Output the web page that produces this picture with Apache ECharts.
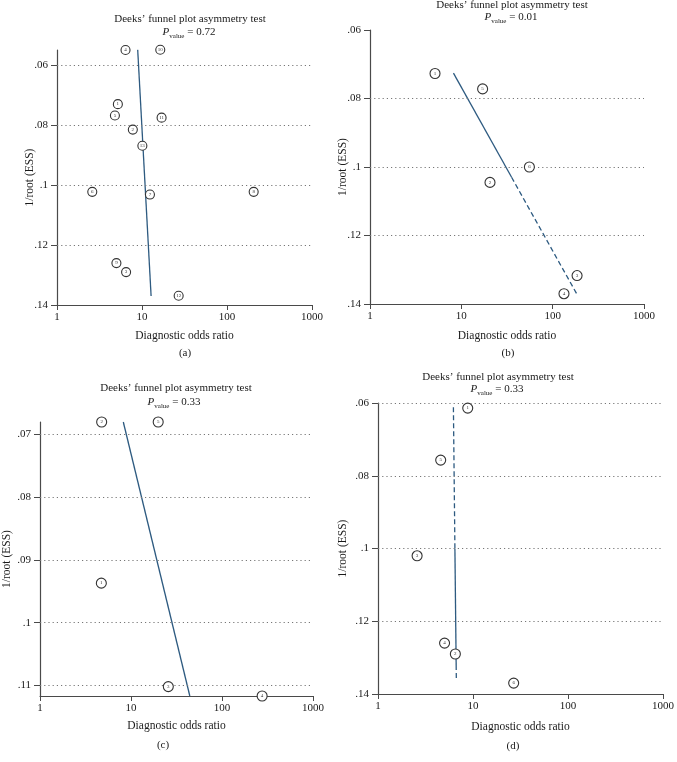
<!DOCTYPE html>
<html><head><meta charset="utf-8">
<script src="https://cdn.jsdelivr.net/npm/echarts@6.0.0/dist/echarts.min.js"></script>
<style>html,body{margin:0;padding:0;background:#fff}#c{width:677px;height:762px}</style>
</head><body><div id="c"></div>
<script>
const FONT = "'Liberation Serif','DejaVu Serif',serif";
const TITLE = 'Deeks\u2019 funnel plot asymmetry test';
const X_NAME = 'Diagnostic odds ratio';
const Y_NAME = '1/root (ESS)';

// Panel (a)
const aIds = ['4','10','1','5','11','2','13','6','7','8','9','3','12'];
const aDOR = [6.4, 16.4, 5.2, 4.8, 17.0, 7.8, 10.1, 2.6, 12.4, 206, 5.0, 6.5, 27];
const aESS = [0.0548, 0.0547, 0.0729, 0.0767, 0.0774, 0.0814, 0.0868, 0.1022, 0.1031, 0.1022, 0.126, 0.129, 0.1369];
const aFitDOR = [8.9, 12.8];
const aFitESS = [0.0547, 0.137];
const aFitDash = [false];
const aYTicks = [0.06, 0.08, 0.1, 0.12, 0.14];
const aYGrid = [0.06, 0.08, 0.1, 0.12];
const aP = '0.72';

// Panel (b)
const bIds = ['1','5','6','2','3','4'];
const bDOR = [5.15, 17.1, 55.6, 20.6, 185, 133];
const bESS = [0.0727, 0.0772, 0.1, 0.1045, 0.1317, 0.137];
const bFitDOR = [8.2, 35.5, 183];
const bFitESS = [0.0726, 0.103, 0.137];
const bFitDash = [false, true];
const bYTicks = [0.06, 0.08, 0.1, 0.12, 0.14];
const bYGrid = [0.08, 0.1, 0.12];
const bP = '0.01';

// Panel (c)
const cIds = ['2','5','1','3','4'];
const cDOR = [4.76, 19.9, 4.72, 25.7, 276];
const cESS = [0.068, 0.068, 0.0937, 0.1102, 0.1117];
const cFitDOR = [8.23, 44.3];
const cFitESS = [0.068, 0.1117];
const cFitDash = [false];
const cYTicks = [0.07, 0.08, 0.09, 0.1, 0.11];
const cYGrid = [0.07, 0.08, 0.09, 0.1, 0.11];
const cP = '0.33';

// Panel (d)
const dIds = ['1','5','3','4','2','6'];
const dDOR = [8.8, 4.57, 2.58, 5.02, 6.52, 26.8];
const dESS = [0.0614, 0.0757, 0.102, 0.126, 0.129, 0.137];
const dFitDOR = [6.22, 6.45, 6.65, 6.68];
const dFitESS = [0.0612, 0.1, 0.132, 0.1364];
const dFitDash = [true, false, true];
const dYTicks = [0.06, 0.08, 0.1, 0.12, 0.14];
const dYGrid = [0.06, 0.08, 0.1, 0.12];
const dP = '0.33';

const panels = [
  {ids:aIds, dor:aDOR, ess:aESS, fd:aFitDOR, fe:aFitESS, fdash:aFitDash, yt:aYTicks, yg:aYGrid, p:aP,
   yMin:0.0548, yMax:0.14, grid:{left:57, top:50, width:255, height:255}, size:9,
   title:[190,19], pos:[189,32], cap:'(a)', capPos:[185,353], xGap:25, yGap:21},
  {ids:bIds, dor:bDOR, ess:bESS, fd:bFitDOR, fe:bFitESS, fdash:bFitDash, yt:bYTicks, yg:bYGrid, p:bP,
   yMin:0.06, yMax:0.14, grid:{left:370, top:30, width:274, height:274}, size:10,
   title:[512,5], pos:[511,17], cap:'(b)', capPos:[508,353], xGap:26, yGap:21},
  {ids:cIds, dor:cDOR, ess:cESS, fd:cFitDOR, fe:cFitESS, fdash:cFitDash, yt:cYTicks, yg:cYGrid, p:cP,
   yMin:0.068, yMax:0.1117, grid:{left:39, top:422, width:274, height:274}, size:10,
   title:[176,388], pos:[174,402], cap:'(c)', capPos:[163,745], xGap:24, yGap:27},
  {ids:dIds, dor:dDOR, ess:dESS, fd:dFitDOR, fe:dFitESS, fdash:dFitDash, yt:dYTicks, yg:dYGrid, p:dP,
   yMin:0.06, yMax:0.14, grid:{left:378, top:403, width:290, height:291}, size:10,
   title:[498,377], pos:[497,389], cap:'(d)', capPos:[513,746], xGap:27, yGap:29}
];

const AX = '#4a4a4a';
const TXT = '#1a1a1a';
const FIT = '#2d5a80';
const fmtY = v => String(+(+v).toFixed(3)).replace(/^0/, '');
const fmtX = v => String(Math.round(v));

const grid = [], xAxis = [], yAxis = [], series = [], graphic = [];
panels.forEach((P, i) => {
  grid.push(P.grid);
  xAxis.push({
    type:'log', logBase:10, gridIndex:i, min:1, max:1000,
    axisLine:{show:true, onZero:false, lineStyle:{color:AX, width:1.2}},
    axisTick:{show:true, length:5, lineStyle:{color:AX}},
    axisLabel:{color:TXT, fontFamily:FONT, fontSize:11, margin:7, formatter:fmtX},
    minorTick:{show:false}, splitLine:{show:false},
    name:X_NAME, nameLocation:'middle', nameGap:P.xGap, nameMoveOverlap:false,
    nameTextStyle:{color:TXT, fontFamily:FONT, fontSize:11.5}
  });
  yAxis.push({
    type:'value', gridIndex:i, inverse:true, min:P.yMin, max:P.yMax,
    axisLine:{show:true, onZero:false, lineStyle:{color:AX, width:1.2}},
    axisTick:{show:true, length:6, customValues:P.yt, lineStyle:{color:AX}},
    axisLabel:{color:TXT, fontFamily:FONT, fontSize:11, margin:9, customValues:P.yt, formatter:fmtY},
    splitLine:{show:false},
    name:Y_NAME, nameLocation:'middle', nameRotate:90, nameGap:P.yGap, nameMoveOverlap:false,
    nameTextStyle:{color:TXT, fontFamily:FONT, fontSize:11.5}
  });
  for (let s = 0; s < P.fdash.length; s++) {
    series.push({
      type:'line', xAxisIndex:i, yAxisIndex:i, silent:true, showSymbol:false, symbol:'none',
      data:[[P.fd[s], P.fe[s]], [P.fd[s+1], P.fe[s+1]]],
      lineStyle:{color:FIT, width:1.3, type: P.fdash[s] ? [5,3] : 'solid'}, z:3
    });
  }
  series.push({
    type:'scatter', xAxisIndex:i, yAxisIndex:i, clip:false, silent:true,
    data:P.dor.map((x, k) => [x, P.ess[k]]),
    symbol:'circle', symbolSize:P.size,
    itemStyle:{color:'#fff', borderColor:'#333', borderWidth:1.1, opacity:1},
    label:{show:true, position:'inside', formatter:p => P.ids[p.dataIndex], fontSize:5, color:'#333', fontFamily:FONT},
    markLine:{silent:true, symbol:'none', animation:false, label:{show:false},
      lineStyle:{color:'#777', width:1, type:[1.2,3]},
      data:P.yg.map(v => ({yAxis:v}))},
    z:5
  });
  graphic.push({type:'text', x:P.title[0], y:P.title[1], style:{text:TITLE, align:'center', verticalAlign:'middle', fill:TXT, font:'11px ' + FONT}});
  graphic.push({type:'text', x:P.pos[0], y:P.pos[1], style:{
    text:'{p|P}{v|value}{e| = ' + P.p + '}', align:'center', verticalAlign:'middle', fill:TXT,
    rich:{
      p:{fontFamily:FONT, fontStyle:'italic', fontSize:11, lineHeight:16, fill:TXT},
      v:{fontFamily:FONT, fontSize:7, lineHeight:7, verticalAlign:'bottom', fill:TXT},
      e:{fontFamily:FONT, fontSize:11, lineHeight:16, fill:TXT}
    }}});
  graphic.push({type:'text', x:P.capPos[0], y:P.capPos[1], style:{text:P.cap, align:'center', verticalAlign:'middle', fill:TXT, font:'11px ' + FONT}});
});

const chart = echarts.init(document.getElementById('c'), null, {renderer:'canvas'});
chart.setOption({animation:false, backgroundColor:'#fff', grid, xAxis, yAxis, series, graphic});
</script></body></html>
